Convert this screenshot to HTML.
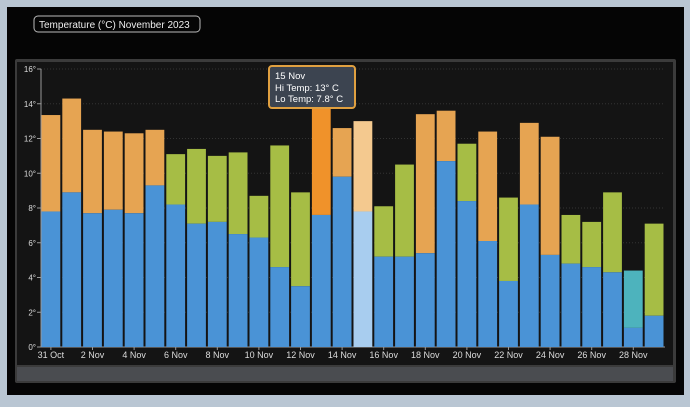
<!DOCTYPE html><html><head><style>
body{margin:0;width:690px;height:402px;background:#b9c6d3;overflow:hidden;font-family:"Liberation Sans",sans-serif}
</style></head><body>
<svg width="690" height="402" xmlns="http://www.w3.org/2000/svg" font-family="Liberation Sans, sans-serif">
<rect x="7" y="7" width="677" height="388" fill="#050505"/>
<rect x="34" y="16" width="166" height="16" rx="4" fill="none" stroke="#bbb" stroke-width="1"/>
<text x="39" y="28" font-size="10" fill="#eee">Temperature (°C) November 2023</text>
<rect x="15" y="59" width="661" height="324" fill="#3b3b3b" rx="2"/>
<rect x="17" y="62" width="656" height="303" fill="#141414"/>
<rect x="17" y="367" width="656" height="14" fill="#4a4c50"/>
<g id="g"></g>
<line x1="41" y1="69" x2="41" y2="347" stroke="#999"/>
<line x1="41" y1="347" x2="665" y2="347" stroke="#999"/>
<g id="bars"></g>
<g font-size="8" fill="#ddd" text-anchor="end" id="yl"></g>
<g font-size="9" fill="#ddd" text-anchor="middle" id="xl"></g>
<rect x="269" y="66" width="86" height="42" rx="3" fill="#3c4450" stroke="#e0a040" stroke-width="2"/>
<text x="275" y="79" font-size="9.5" fill="#fff">15 Nov</text>
<text x="275" y="91" font-size="9.5" fill="#fff">Hi Temp:  13° C</text>
<text x="275" y="102" font-size="9.5" fill="#fff">Lo Temp:  7.8° C</text>
</svg>
<script>
const ns="http://www.w3.org/2000/svg";
function el(p,t,a,txt){const e=document.createElementNS(ns,t);for(const k in a)e.setAttribute(k,a[k]);if(txt)e.textContent=txt;document.getElementById(p).appendChild(e);return e;}
const Y=v=>347-v*17.375;
for(let v=0;v<=16;v+=2){el("yl","text",{x:36,y:Y(v)+3},v+"°");el("g","line",{x1:37,x2:41,y1:Y(v),y2:Y(v),stroke:"#999"});if(v>0)el("g","line",{x1:41,x2:665,y1:Y(v),y2:Y(v),stroke:"#333","stroke-dasharray":"1,2"});}
const d=[[13.35,7.8],[14.3,8.9],[12.5,7.7],[12.4,7.9],[12.3,7.7],[12.5,9.3],[11.1,8.2],[11.4,7.1],[11.0,7.2],[11.2,6.5],[8.7,6.3],[11.6,4.6],[8.9,3.5],[14.5,7.6],[12.6,9.8],[13,7.8],[8.1,5.2],[10.5,5.2],[13.4,5.4],[13.6,10.7],[11.7,8.4],[12.4,6.1],[8.6,3.8],[12.9,8.2],[12.1,5.3],[7.6,4.8],[7.2,4.6],[8.9,4.3],[4.4,1.1],[7.1,1.8]];
const w=20.8;
d.forEach((p,i)=>{const x=41.5+i*w;let top=p[0]>=12?"#e6a452":"#a6bd45",bot="#4a93d6";
if(i==13)top="#f0922a";if(i==15){top="#f4c98f";bot="#a8cdef";}if(i==28)top="#4db3bd";
el("bars","rect",{x:x,y:Y(p[0]),width:w-2,height:Y(p[1])-Y(p[0]),fill:top});
el("bars","rect",{x:x,y:Y(p[1]),width:w-2,height:347-Y(p[1]),fill:bot});
if(i%2==0){const lab=i==0?"31 Oct":i+" Nov";el("xl","text",{x:x+(w-2)/2,y:358},lab);el("g","line",{x1:x+(w-2)/2,x2:x+(w-2)/2,y1:347,y2:350,stroke:"#999"});}
});
</script>
</body></html>
